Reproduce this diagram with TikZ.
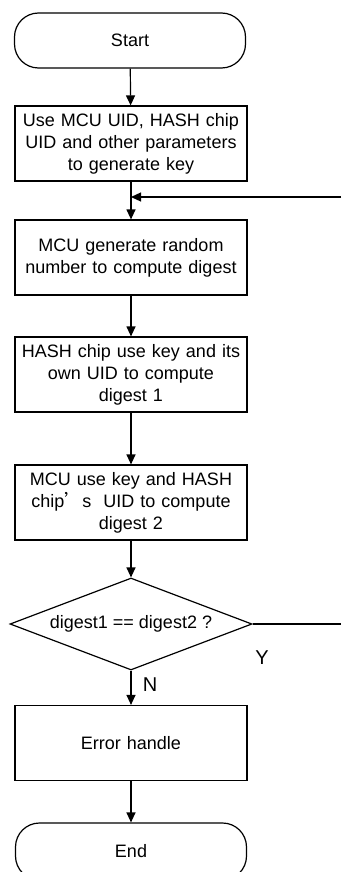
\documentclass[tikz,border=0pt]{standalone}
\usepackage{fontspec}
\setmainfont{Liberation Sans}
\newfontfamily\cjkfont{Noto Sans CJK SC}
\usetikzlibrary{shapes.geometric,arrows.meta}
\begin{document}
\begin{tikzpicture}[x=1pt,y=-1pt,
  every node/.style={font=\fontsize{18}{22}\selectfont},
  procbox/.style={draw,line width=1.2pt,minimum width=232pt,minimum height=75pt,
    inner sep=0pt,align=center,text width=226pt},
  termbox/.style={draw,line width=1.2pt,rounded corners=24pt,minimum width=231pt,
    minimum height=55pt,inner sep=0pt},
  decide/.style={draw,line width=1.2pt,diamond,minimum width=242pt,minimum height=92pt,
    inner sep=0pt,aspect=2.63},
  flow/.style={line width=1.2pt,-{Triangle[length=10pt,width=9pt]}},
  plain/.style={line width=1.2pt},
  lbl/.style={font=\fontsize{20}{24}\selectfont,inner sep=0pt}]
  \useasboundingbox (0,0) rectangle (341,872);

  \node[termbox] (start) at (130,40.5) {Start};
  \node[procbox] (key) at (131,143.5) {Use MCU UID, HASH chip\\UID and other parameters\\to generate key};
  \node[procbox] (rand) at (131,257.5) {MCU generate random\\number to compute digest};
  \node[procbox] (d1) at (131,374.5) {HASH chip use key and its\\own UID to compute\\digest 1};
  \node[procbox] (d2) at (131,502.5) {MCU use key and HASH\\chip{\cjkfont ’}s\ \ UID to compute\\digest 2};
  \node[decide] (cmp) at (131,624) {digest1 == digest2 ?};
  \node[procbox] (err) at (131,743) {Error handle};
  \node[termbox,minimum height=57pt] (end) at (131,851.5) {End};

  % loop back from the Y branch
  \coordinate (yout) at (341,624);
  \coordinate (yin) at (341,197);
  \coordinate (join) at (131,197);

  \draw[flow] (start) -- (key);
  \draw[flow] (key) -- (rand);
  \draw[flow] (yin) -- (join);
  \draw[flow] (rand) -- (d1);
  \draw[flow] (d1) -- (d2);
  \draw[flow] (d2) -- (cmp);
  \draw[plain] (cmp.east) -- (yout);
  \draw[flow] (cmp) -- (err);
  \draw[flow] (err) -- (end);

  \node[lbl] (ylab) at (262,658) {Y};
  \node[lbl] (nlab) at (150,685) {N};
\end{tikzpicture}
\end{document}
